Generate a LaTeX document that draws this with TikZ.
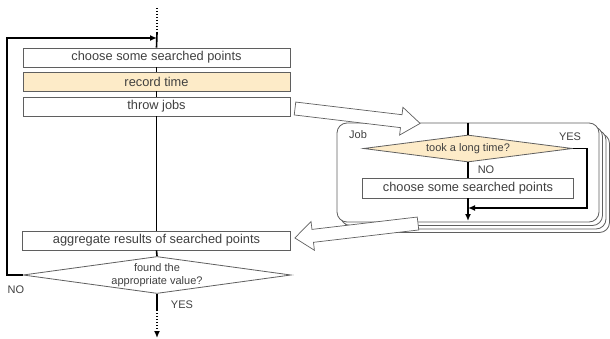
\documentclass[tikz,border=0pt]{standalone}
\usepackage{fontspec}
\setmainfont{Liberation Sans}
\usetikzlibrary{shapes.geometric,arrows.meta}

\definecolor{boxline}{HTML}{5F5F5F}
\definecolor{txt}{HTML}{404040}
\definecolor{cream}{HTML}{FDEBC8}

\tikzset{
  proc/.style={draw=boxline, line width=0.8pt, fill=white, text=txt, minimum height=19pt, inner sep=0pt, font=\fontsize{12.8}{14}\selectfont},
  decide/.style={diamond, draw=boxline, line width=0.8pt, fill=white, text=txt, inner sep=0pt, align=center, font=\fontsize{11}{13}\selectfont},
  flow/.style={line width=1.6pt, black},
  dots/.style={line width=1.6pt, black, dash pattern=on 1.4pt off 1.6pt},
  tip/.style={-{Latex[length=7pt,width=6pt]}},
  lbl/.style={text=txt, inner sep=0pt, font=\fontsize{11}{12}\selectfont},
  jobcard/.style={draw=boxline, line width=0.8pt, fill=white, rounded corners=10pt},
  bigarrow/.style={draw=boxline, line width=0.7pt, fill=white, line join=miter}
}

\begin{document}
\begin{tikzpicture}[x=1pt, y=-1pt]
\useasboundingbox (0,0) rectangle (610,339);


% main loop
\coordinate (start) at (157,8);
\coordinate (entry) at (157,33);
\coordinate (loopin) at (157,38);
\coordinate (loopl) at (7,275);
\coordinate (leave) at (157,310);
\coordinate (finish) at (157,338);

\node[proc, minimum width=267pt] (choose) at (156.5,57.5) {choose some searched points};
\node[proc, minimum width=267pt, fill=cream] (record) at (156.5,81.5) {record time};
\node[proc, minimum width=267pt] (throw) at (156.5,106.5) {throw jobs};
\node[proc, minimum width=268pt] (aggr) at (156.5,240.5) {aggregate results of searched points};
\node[decide, minimum width=268pt, minimum height=37pt, aspect=7.2] (found) at (157,275) {found the\\appropriate value?};

\draw[dots] (start) -- (entry);
\draw[flow] (entry) -- (choose.north);
\draw[flow] (choose.south) -- (record.north);
\draw[flow] (record.south) -- (throw.north);
\draw[flow] (throw.south) -- (aggr.north);
\draw[flow] (aggr.south) -- (found.north);
\draw[flow] (found.south) -- (leave);
\draw[dots, tip] (leave) -- (finish);
\draw[flow, tip] (found.west) -- (loopl) |- (loopin);

\node[lbl] (no) at (16,290) {NO};
\node[lbl] (yes) at (182,305) {YES};


% job cards
\foreach \d in {10.5, 7, 3.5}
  \draw[jobcard] (337+\d,123+\d) rectangle (599+\d,222+\d);
\node[jobcard, minimum width=262pt, minimum height=99pt, inner sep=0pt] (job) at (468,172.5) {};
\node[lbl] (joblbl) at (358,135) {Job};

\coordinate (jobend) at (468,221);
\coordinate (yesr) at (587,148.5);
\coordinate (join) at (468,208);

\node[decide, minimum width=209pt, minimum height=27pt, aspect=7.7, fill=cream] (long) at (468,148.5) {took a long time?};
\node[proc, minimum width=211pt, minimum height=20pt] (pick) at (468,188) {choose some searched points};

\draw[flow] (job.north) -- (long.north);
\draw[flow] (long.south) -- (pick.north);
\draw[flow, tip] (pick.south) -- (jobend);
\draw[flow, tip] (long.east) -- (yesr) |- (join);

\node[lbl] (jyes) at (570,137) {YES};
\node[lbl] (jno) at (486,170) {NO};


% hand over / collect
\draw[bigarrow, shift={(295,108.5)}, rotate=-6.8] (0,-6.5) -- (107,-6.5) -- (107,-14) -- (126,0) -- (107,14) -- (107,6.5) -- (0,6.5) -- cycle;
\draw[bigarrow, shift={(418,223.5)}, rotate=186.7] (0,-6.5) -- (106,-6.5) -- (106,-14.5) -- (124,0) -- (106,14.5) -- (106,6.5) -- (0,6.5) -- cycle;

\end{tikzpicture}
\end{document}
